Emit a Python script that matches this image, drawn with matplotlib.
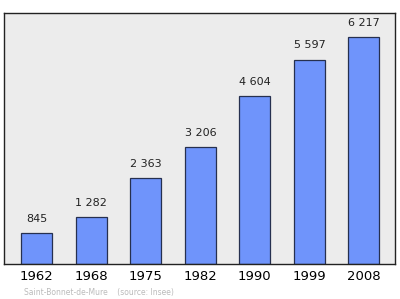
import matplotlib
matplotlib.use("Agg")
import matplotlib.pyplot as plt

years = ["1962", "1968", "1975", "1982", "1990", "1999", "2008"]
population = [845, 1282, 2363, 3206, 4604, 5597, 6217]
value_labels = ["845", "1 282", "2 363", "3 206", "4 604", "5 597", "6 217"]

fig = plt.figure(figsize=(4, 2.99), dpi=100)
ax = fig.add_axes([0.01, 0.117, 0.9775, 0.8395])
ax.set_facecolor("#ececec")

x = range(len(years))
ax.bar(x, population, width=0.57, color="#6f94fb", edgecolor="#26304f", linewidth=0.9)
for xi, v, lab in zip(x, population, value_labels):
    ax.text(xi, v + 250, lab, ha="center", va="bottom", fontsize=8, color="#222222")

ax.set_xlim(-0.6, 6.57)
ax.set_ylim(0, 6870)
ax.set_yticks([])
ax.set_xticks(list(x))
ax.set_xticklabels(years, fontsize=9.5)
ax.tick_params(axis="x", length=0, pad=4)
for s in ax.spines.values():
    s.set_color("#222222")
    s.set_linewidth(1)

fig.text(0.06, 0.015, "Saint-Bonnet-de-Mure    (source: Insee)", fontsize=5.5, color="#bbbbbb")

fig.savefig("out.png", dpi=100)
